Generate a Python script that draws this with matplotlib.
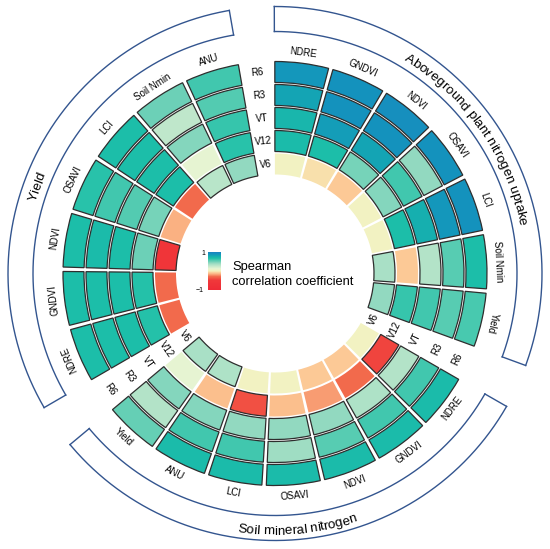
import numpy as np
import matplotlib
matplotlib.use("Agg")
import matplotlib.pyplot as plt
from matplotlib.colors import LinearSegmentedColormap, Normalize
from matplotlib.cm import ScalarMappable

plt.rcParams['font.family'] = ['Liberation Sans', 'DejaVu Sans']

# growth stages, inner ring -> outer ring
stages = ["V6", "V12", "VT", "R3", "R6"]

# Aboveground plant nitrogen uptake (columns clockwise)
anu_names = ["NDRE", "GNDVI", "NDVI", "OSAVI", "LCI", "Soil Nmin", "Yield"]
anu_rho = [
    [0.03, 0.70, 0.72, 0.82, 0.88],
    [-0.04, 0.68, 0.85, 0.90, 0.90],
    [-0.10, 0.48, 0.82, 0.90, 0.92],
    [0.03, 0.45, 0.60, 0.42, 0.90],
    [0.03, 0.68, 0.76, 0.88, 0.90],
    [0.35, -0.10, 0.32, 0.55, 0.68],
    [0.42, 0.62, 0.60, 0.55, 0.58],
]
anu_sig = [
    [0, 1, 1, 1, 1],
    [0, 1, 1, 1, 1],
    [0, 1, 1, 1, 1],
    [0, 1, 1, 1, 1],
    [0, 1, 1, 1, 1],
    [1, 0, 1, 1, 1],
    [1, 1, 1, 1, 1],
]

# Soil mineral nitrogen
soil_names = ["NDRE", "GNDVI", "NDVI", "OSAVI", "LCI", "ANU", "Yield"]
soil_rho = [
    [0.03, -0.45, 0.32, 0.60, 0.70],
    [-0.10, -0.30, 0.33, 0.60, 0.70],
    [-0.10, -0.20, 0.42, 0.55, 0.70],
    [0.03, -0.12, 0.42, 0.38, 0.70],
    [0.03, -0.40, 0.42, 0.60, 0.70],
    [0.33, -0.12, 0.45, 0.60, 0.70],
    [0.35, 0.12, 0.45, 0.32, 0.52],
]
soil_sig = [
    [0, 1, 1, 1, 1],
    [0, 0, 1, 1, 1],
    [0, 0, 1, 1, 1],
    [0, 0, 1, 1, 1],
    [0, 1, 1, 1, 1],
    [1, 0, 1, 1, 1],
    [1, 0, 1, 1, 1],
]

# Yield
yld_names = ["NDRE", "GNDVI", "NDVI", "OSAVI", "LCI", "Soil Nmin", "ANU"]
yld_rho = [
    [-0.30, 0.66, 0.68, 0.68, 0.68],
    [-0.30, 0.66, 0.68, 0.68, 0.68],
    [-0.60, 0.50, 0.68, 0.70, 0.68],
    [-0.15, 0.48, 0.56, 0.60, 0.65],
    [-0.30, 0.68, 0.68, 0.68, 0.68],
    [0.30, 0.12, 0.45, 0.28, 0.50],
    [0.42, 0.65, 0.62, 0.56, 0.60],
]
yld_sig = [
    [0, 1, 1, 1, 1],
    [0, 1, 1, 1, 1],
    [1, 1, 1, 1, 1],
    [0, 1, 1, 1, 1],
    [0, 1, 1, 1, 1],
    [1, 0, 1, 1, 1],
    [1, 1, 1, 1, 1],
]

group_titles = ["Aboveground plant nitrogen uptake", "Soil mineral nitrogen", "Yield"]

# ── layout (1 data unit = 1 px) ────────────────────────────────────────────
W, H = 550, 549
CX, CY = 275, 273.5
R_IN, RING, RING_GAP = 98, 23, 2.0
PITCH, COL_W = 15.9, 14.7
SECTOR_STEP = 120.0
FIRST_COL = 82.7
BR_IN, BR_OUT = 242, 267
EDGE = "#2e2e2e"
BLUE = "#33558f"

stops = [(-1.0, '#ee2a36'), (-0.5, '#f0383a'), (-0.3, '#f26a4c'),
         (-0.2, '#f89c72'), (-0.1, '#fcc895'), (0.0, '#f5f2bd'),
         (0.12, '#e6f4d2'), (0.28, '#bfe7cb'), (0.42, '#92d9c0'),
         (0.55, '#58ccb2'), (0.68, '#1cbfa8'), (0.8, '#14a8b2'),
         (0.9, '#1493bd'), (1.0, '#1b82c0')]
cmap = LinearSegmentedColormap.from_list(
    "spearman", [((v + 1) / 2, c) for v, c in stops])
norm = Normalize(-1, 1)

fig = plt.figure(figsize=(W / 100, H / 100), dpi=100)
ax = fig.add_axes([(CX - 270) / W, (H - CY - 270) / H, 540 / W, 540 / H],
                  projection='polar')
ax.set_ylim(0, 270)
ax.set_axis_off()
renderer = fig.canvas.get_renderer()


def text_w(s, size):
    t = fig.text(0, 0, s, fontsize=size)
    w = t.get_window_extent(renderer).width
    t.remove()
    return w


def curved_text(s, center, r, size, clockwise):
    base = text_w("xx", size)
    adv = np.array([text_w("x" + ch + "x", size) - base for ch in s])
    pos = np.cumsum(adv) - adv / 2 - adv.sum() / 2
    for ch, p in zip(s, pos):
        d = np.rad2deg(p / r)
        th = center - d if clockwise else center + d
        rot = th - 90 if clockwise else th + 90
        ax.text(np.deg2rad(th), r, ch, fontsize=size, rotation=rot,
                rotation_mode='anchor', ha='center', va='baseline')


sectors = [(anu_names, anu_rho, anu_sig, False),
           (soil_names, soil_rho, soil_sig, True),
           (yld_names, yld_rho, yld_sig, False)]

for s, (names, rho, sig, flip) in enumerate(sectors):
    centers = FIRST_COL - SECTOR_STEP * s - PITCH * np.arange(len(names))
    rho = np.array(rho)
    sig = np.array(sig)
    for i in range(len(stages)):
        ax.bar(np.deg2rad(centers), RING - RING_GAP, width=np.deg2rad(COL_W),
               bottom=R_IN + i * RING + RING_GAP / 2,
               color=cmap(norm(rho[:, i])),
               edgecolor=[EDGE if f else 'none' for f in sig[:, i]],
               linewidth=0.9, align='center')
    for th, name in zip(centers, names):
        rot = th + 90 if flip else th - 90
        ax.text(np.deg2rad(th), 223, name, fontsize=7, rotation=rot,
                rotation_mode='anchor', ha='center', va='center')

    # bracket around the sector
    a0 = np.deg2rad(centers[0] + PITCH / 2 - 0.5)
    a1 = np.deg2rad(centers[-1] - PITCH / 2 + 0.5)
    arc = np.linspace(a0, a1, 200)
    ax.plot(arc, np.full_like(arc, BR_IN), color=BLUE, lw=1.0)
    ax.plot(arc, np.full_like(arc, BR_OUT), color=BLUE, lw=1.0)
    for a in (a0, a1):
        ax.plot([a, a], [BR_IN, BR_OUT], color=BLUE, lw=1.0)

    # stage labels in the gap after the sector
    gap = centers[-1] - (SECTOR_STEP - PITCH * (len(names) - 1)) / 2
    grot = gap + 90 if np.sin(np.deg2rad(gap)) < 0 else gap - 90
    for i, st in enumerate(stages):
        ax.text(np.deg2rad(gap), R_IN + i * RING + RING / 2, st, fontsize=7,
                rotation=grot, rotation_mode='anchor', ha='center', va='center')

curved_text(group_titles[0], 35, 249, 9.6, clockwise=True)
curved_text(group_titles[1], -85, 261, 9.6, clockwise=False)
curved_text(group_titles[2], 160, 250, 9.6, clockwise=True)

# legend
cax = fig.add_axes([208 / W, (H - 290) / H, 13 / W, 38 / H])
cb = fig.colorbar(ScalarMappable(norm=norm, cmap=cmap), cax=cax)
cb.outline.set_visible(False)
cax.set_xticks([])
cax.set_yticks([])
fig.text(203 / W, 1 - 254 / H, "1", fontsize=5, ha='center', va='center')
fig.text(200 / W, 1 - 291 / H, "\u22121", fontsize=5, ha='center', va='center')
fig.text(232 / W, 1 - 270 / H, "Spearman", fontsize=9.3, va='baseline')
fig.text(232 / W, 1 - 285 / H, "correlation coefficient", fontsize=9.3,
         va='baseline')

fig.savefig("out.png", dpi=100)
